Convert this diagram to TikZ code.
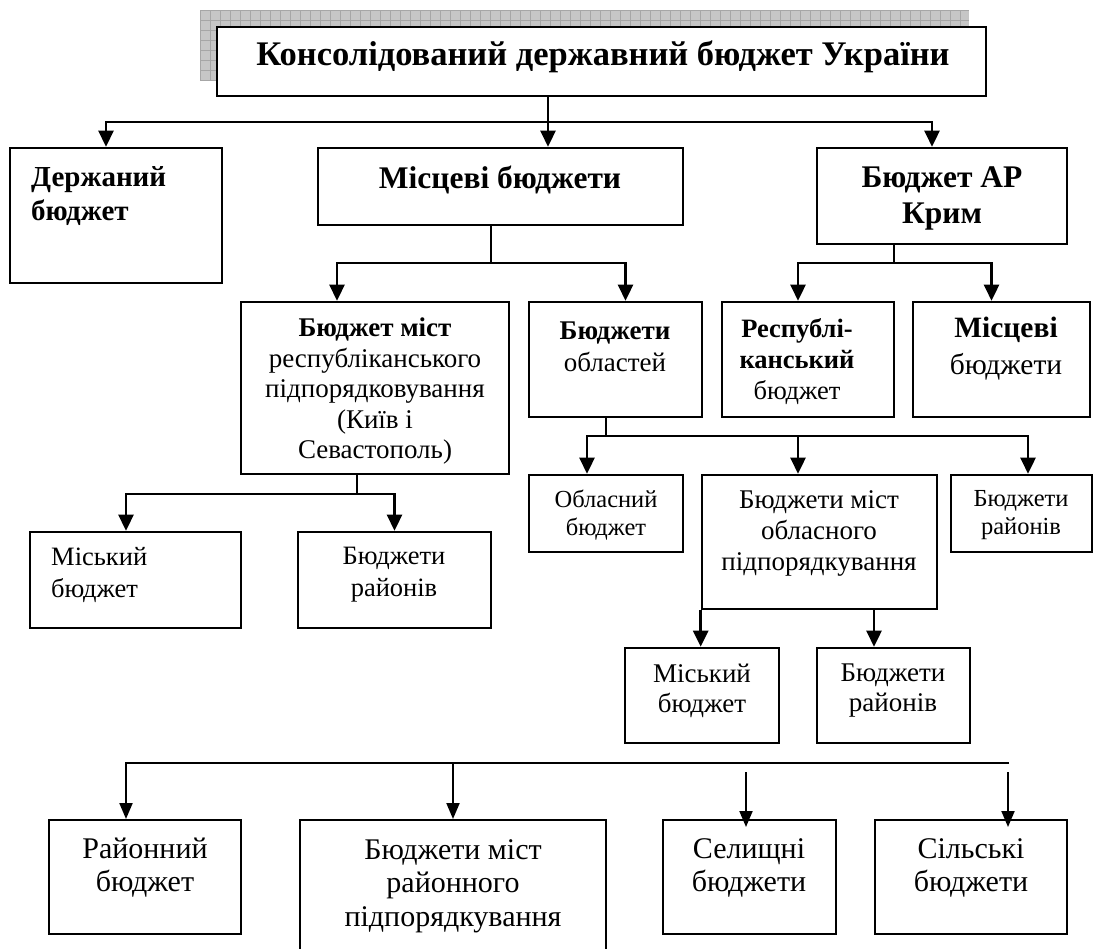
\documentclass[tikz,border=0pt]{standalone}
\usepackage{fontspec}
\setmainfont{Liberation Serif}
\usetikzlibrary{arrows.meta}

\newcommand{\sz}[2]{\fontsize{#1}{#2}\selectfont}

\tikzset{
  box/.style={draw=black, line width=2.6pt, fill=white, inner sep=0pt},
  lowbox/.style={draw=black, line width=2pt, fill=white, inner sep=0pt},
  txt/.style={inner sep=0pt, align=center},
  link/.style={line width=2.6pt},
  arr/.style={line width=2.6pt, -{Triangle[length=16pt,width=15pt]}},
  lowarr/.style={line width=2pt, -{Triangle[length=16pt,width=13pt]}},
}

\begin{document}
\begin{tikzpicture}[x=1pt,y=-1pt]
\useasboundingbox (0,0) rectangle (1095,948);
\clip (0,0) rectangle (1095,948);

% shadow of the title
\fill [gray!45] (200,10) rectangle (969,80);
\foreach \gx in {200,210,...,960}
  \draw [gray!70, line width=0.8pt] (\gx,10) -- (\gx,80);
\foreach \gy in {10,20,...,80}
  \draw [gray!70, line width=0.8pt] (200,\gy) -- (969,\gy);

% boxes
\node [box, minimum width=769pt, minimum height=69pt] (title) at (601.5,61.5) {};
\node [box, minimum width=212pt, minimum height=135pt] (derzh) at (116,215.5) {};
\node [box, minimum width=365pt, minimum height=77pt] (mists) at (500.5,186.5) {};
\node [box, minimum width=250pt, minimum height=96pt] (krym) at (942,196) {};
\node [box, minimum width=268pt, minimum height=172pt] (respm) at (375,388) {};
\node [box, minimum width=173pt, minimum height=115pt] (oblast) at (615.5,359.5) {};
\node [box, minimum width=172pt, minimum height=115pt] (resp) at (808,359.5) {};
\node [box, minimum width=177pt, minimum height=115pt] (kmisc) at (1001.5,359.5) {};
\node [box, minimum width=211pt, minimum height=96pt] (mist1) at (135.5,580) {};
\node [box, minimum width=193pt, minimum height=96pt] (rai1) at (394.5,580) {};
\node [box, minimum width=154pt, minimum height=77pt] (oblb) at (606,513.5) {};
\node [box, minimum width=235pt, minimum height=134pt] (mobl) at (819.5,542) {};
\node [box, minimum width=141pt, minimum height=77pt] (rai2) at (1021.5,513.5) {};
\node [box, minimum width=154pt, minimum height=95pt] (mist2) at (702,695.5) {};
\node [box, minimum width=153pt, minimum height=95pt] (rai3) at (893.5,695.5) {};
\node [lowbox, minimum width=192pt, minimum height=114pt] (raib) at (145,877) {};
\node [lowbox, minimum width=306pt, minimum height=150pt] (mraion) at (453,895) {};
\node [lowbox, minimum width=173pt, minimum height=114pt] (selysh) at (749.5,877) {};
\node [lowbox, minimum width=192pt, minimum height=114pt] (silsk) at (971,877) {};

% texts
\node [txt, font=\sz{34.5}{38}\bfseries] (title-t) at (603,57) {Консолідований державний бюджет України};
\node [txt, align=left, anchor=west, font=\sz{29}{34}\bfseries] (derzh-t) at (31,196.5) {Держаний\\бюджет};
\node [txt, font=\sz{31.5}{36}\bfseries] (mists-t) at (500,180) {Місцеві бюджети};
\node [txt, font=\sz{31.5}{36}\bfseries] (krym-t) at (942,198) {Бюджет АР\\Крим};
\node [txt, font=\sz{27}{30.5}] (respm-t) at (375,391) {\textbf{Бюджет міст}\\республіканського\\підпорядковування\\(Київ і\\Севастополь)};
\node [txt, font=\sz{27}{32}] (oblast-t) at (615,347) {\textbf{Бюджети}\\областей};
\node [txt, font=\sz{26.5}{31}] (resp-t) at (797,362) {\textbf{Республі-}\\\textbf{канський}\\бюджет};
\node [txt, font=\sz{29.5}{37}] (kmisc-t) at (1006,349) {\textbf{Місцеві}\\бюджети};
\node [txt, align=left, anchor=west, font=\sz{26.5}{32}] (mist1-t) at (51,575) {Міський\\бюджет};
\node [txt, font=\sz{26.5}{32}] (rai1-t) at (394,575) {Бюджети\\районів};
\node [txt, font=\sz{24.5}{28}] (oblb-t) at (606,515) {Обласний\\бюджет};
\node [txt, font=\sz{27}{31}] (mobl-t) at (819,533) {Бюджети міст\\обласного\\підпорядкування};
\node [txt, font=\sz{24.5}{28}] (rai2-t) at (1021,515) {Бюджети\\районів};
\node [txt, font=\sz{27}{30}] (mist2-t) at (702,691) {Міський\\бюджет};
\node [txt, font=\sz{27}{30}] (rai3-t) at (893,691) {Бюджети\\районів};
\node [txt, font=\sz{30}{33}] (raib-t) at (145,868) {Районний\\бюджет};
\node [txt, font=\sz{30}{33.5}] (mraion-t) at (453,886) {Бюджети міст\\районного\\підпорядкування};
\node [txt, font=\sz{30}{33}] (selysh-t) at (749,868) {Селищні\\бюджети};
\node [txt, font=\sz{30}{33}] (silsk-t) at (971,868) {Сільські\\бюджети};

% connectors
\coordinate (j1) at (548,122);
\draw [arr] (title.south -| j1) -- (mists.north -| j1);
\draw [arr] (j1) -| ([xshift=-10pt]derzh.north);
\draw [arr] (j1) -| ([xshift=-10pt]krym.north);

\coordinate (j2) at (491,263);
\draw [link] (mists.south -| j2) -- (j2);
\draw [arr] (j2) -| ([xshift=-38pt]respm.north);
\draw [arr] (j2) -| ([xshift=10pt]oblast.north);

\coordinate (j3) at (894,263);
\draw [link] (krym.south -| j3) -- (j3);
\draw [arr] (j3) -| ([xshift=-10pt]resp.north);
\draw [arr] (j3) -| ([xshift=-10pt]kmisc.north);

\coordinate (j4) at (357,494);
\draw [link] (respm.south -| j4) -- (j4);
\draw [arr] (j4) -| ([xshift=-9.5pt]mist1.north);
\draw [arr] (j4) -| (rai1.north);

\coordinate (j5) at (606,436);
\draw [link] (oblast.south -| j5) -- (j5);
\draw [arr] (j5) -| ([xshift=-19pt]oblb.north);
\draw [arr] (j5) -| ([xshift=-21.5pt]mobl.north);
\draw [arr] (j5) -| ([xshift=6.5pt]rai2.north);

\draw [arr] (mobl.south west) -- (mobl.south west |- mist2.north);
\draw [arr] ([xshift=-19.5pt]rai3.north |- mobl.south) -- ([xshift=-19.5pt]rai3.north);

% bottom row
\coordinate (b1) at (126,763);
\coordinate (b2) at (1009,763);
\coordinate (b3) at (746,772);
\coordinate (b4) at (1008,772);
\draw [lowarr] (b2) -- (b1) -- (b1 |- raib.north);
\draw [lowarr] (mraion.north |- b1) -- (mraion.north);
\draw [lowarr, shorten >=-8pt] (b3) -- (b3 |- selysh.north);
\draw [lowarr, shorten >=-8pt] (b4) -- (b4 |- silsk.north);
\end{tikzpicture}
\end{document}
